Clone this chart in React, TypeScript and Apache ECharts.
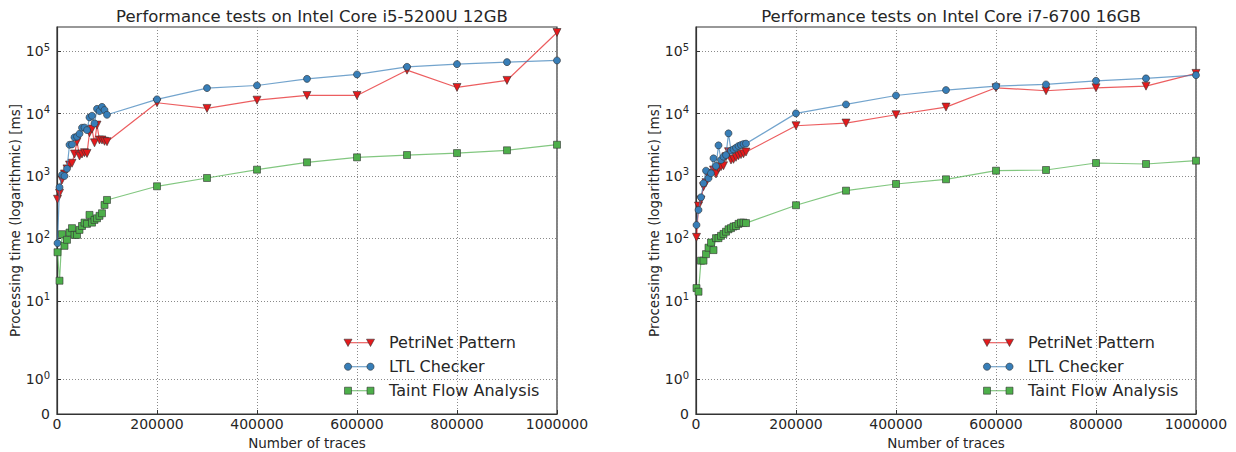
import React, { useEffect, useRef } from "react";
import * as echarts from "echarts";

// ---------------- data ----------------
const TRACES: number[] = [
  1000, 5000, 10000, 15000, 20000, 25000, 30000, 35000, 40000, 45000, 50000,
  55000, 60000, 65000, 70000, 75000, 80000, 85000, 90000, 95000, 100000,
  200000, 300000, 400000, 500000, 600000, 700000, 800000, 900000, 1000000,
];

// Intel Core i5-5200U 12GB (ms)
const I5_PETRINET: number[] = [
  424, 528, 863, 1077, 1300, 1500, 1600, 2250, 3540, 2090, 2250,
  2360, 2300, 4930, 5650, 3400, 6540, 3770, 3770, 3600, 3540,
  14900, 12100, 16400, 19500, 19500, 49600, 26200, 34000, 199000,
];
const I5_LTL: number[] = [
  84, 660, 1040, 1000, 1310, 3160, 3200, 4160, 4260, 4750, 5930,
  5980, 5440, 8690, 9220, 6970, 11900, 10960, 12800, 11400, 9570,
  16900, 25600, 28200, 36000, 42400, 56100, 61900, 66700, 71000,
];
const I5_TAINT: number[] = [
  60, 21, 117, 76, 95, 124, 146, 114, 114, 137, 158,
  179, 171, 238, 179, 198, 210, 230, 253, 344, 413,
  684, 929, 1262, 1656, 1990, 2167, 2330, 2580, 3170,
];

// Intel Core i7-6700 16GB (ms)
const I7_PETRINET: number[] = [
  104, 330, 413, 675, 782, 972, 1104, 1247, 1076, 1327, 1409,
  1460, 2037, 2449, 1803, 1850, 1990, 2113, 2200, 2270, 2420,
  6380, 7050, 9570, 12700, 25900, 23200, 25900, 27500, 44000,
];
const I7_LTL: number[] = [
  164, 286, 456, 764, 1216, 918, 1104, 1919, 1445, 3097, 1803,
  2037, 2168, 4820, 2541, 2673, 2838, 3020, 3140, 3250, 3300,
  10070, 14000, 19500, 23800, 27500, 29300, 33500, 36600, 41300,
];
const I7_TAINT: number[] = [
  16, 14, 44, 44, 56, 71, 86, 65, 101, 101, 110,
  118, 128, 140, 146, 155, 158, 171, 179, 179, 176,
  340, 582, 745, 885, 1216, 1247, 1614, 1556, 1758,
];

const TITLES: string[] = [
  "Performance tests on Intel Core i5-5200U 12GB",
  "Performance tests on Intel Core i7-6700 16GB",
];
const SERIES_NAMES: string[] = ["PetriNet Pattern", "LTL Checker", "Taint Flow Analysis"];
const Y_TICK_VALUES: number[] = [0, 1, 10, 100, 1000, 10000, 100000];
const Y_TICK_LABELS: string[] = ["0", "10{s|0}", "10{s|1}", "10{s|2}", "10{s|3}", "10{s|4}", "10{s|5}"];
const X_TICK_INTERVAL = 200000;
const X_MAX = 1000000;

// ---------------- styles ----------------
const FONT = "DejaVu Sans";
const TEXT = "#262626";
const COLORS = ["#e41a1c", "#377eb8", "#4daf4a"];
const SYMBOLS = ["triangle", "circle", "rect"];

// symlog-like y scale of the reference (0 and 10^0 in a compressed linear part)
const Y_ONE = 0.56;
const Y_OFF = 0.813;
const Y_MAX = 6.2;
function scaleY(v: number): number {
  if (v <= 0) return 0;
  if (v <= 1) return v * Y_ONE;
  if (v < 10) return Y_ONE + Math.log10(v) * (1 + Y_OFF - Y_ONE);
  return Math.log10(v) + Y_OFF;
}

const GRIDS = [
  { left: 57, top: 27, width: 500, height: 387 },
  { left: 696, top: 27, width: 500, height: 387 },
];

export default function App() {
  const ref = useRef<HTMLDivElement>(null);

  useEffect(() => {
    document.body.style.margin = "0";
    if (!ref.current) return;
    const chart = echarts.init(ref.current, undefined, { renderer: "svg" });

    const data = [
      [I5_PETRINET, I5_LTL, I5_TAINT],
      [I7_PETRINET, I7_LTL, I7_TAINT],
    ];
    const yTickPos = Y_TICK_VALUES.map(scaleY);

    const series: any[] = [];
    data.forEach((group, gi) => {
      group.forEach((vals, si) => {
        series.push({
          name: SERIES_NAMES[si],
          type: "line",
          xAxisIndex: gi,
          yAxisIndex: gi,
          data: TRACES.map((x, i) => [x, scaleY(vals[i])]),
          symbol: SYMBOLS[si],
          symbolSize: si === 0 ? 8 : 7,
          symbolRotate: si === 0 ? 180 : 0,
          showAllSymbol: true,
          itemStyle: { color: COLORS[si], borderColor: "#333", borderWidth: 0.6 },
          lineStyle: { color: COLORS[si], width: 1.2, opacity: 0.7 },
          z: 2 + si,
        });
      });
    });

    const xAxis = GRIDS.map((_, gi) => ({
      type: "value",
      gridIndex: gi,
      min: 0,
      max: X_MAX,
      interval: X_TICK_INTERVAL,
      name: "Number of traces",
      nameLocation: "middle",
      nameGap: 20,
      nameTextStyle: { fontFamily: FONT, fontSize: 13.5, color: TEXT },
      axisLine: { show: true, onZero: false, lineStyle: { color: "#333", width: 1.2 } },
      axisTick: { show: true, inside: true, length: 4, lineStyle: { color: "#333" } },
      axisLabel: {
        fontFamily: FONT,
        fontSize: 14,
        color: TEXT,
        margin: 3,
        formatter: (v: number) => String(v),
      },
      splitLine: { show: true, lineStyle: { color: "#8a8a8a", width: 1, type: [1, 2] } },
    }));

    const yAxis = GRIDS.map((_, gi) => ({
      type: "value",
      gridIndex: gi,
      min: 0,
      max: Y_MAX,
      name: "Processing time (logarithmic) [ms]",
      nameLocation: "middle",
      nameGap: 32,
      nameTextStyle: { fontFamily: FONT, fontSize: 13.5, color: TEXT },
      axisLine: { show: true, onZero: false, lineStyle: { color: "#333", width: 1.2 } },
      axisTick: { show: true, inside: true, length: 4, customValues: yTickPos, lineStyle: { color: "#333" } },
      axisLabel: {
        customValues: yTickPos,
        fontFamily: FONT,
        fontSize: 14,
        color: TEXT,
        margin: 7,
        formatter: (v: number) => {
          let best = 0;
          yTickPos.forEach((p, i) => {
            if (Math.abs(p - v) < Math.abs(yTickPos[best] - v)) best = i;
          });
          return Y_TICK_LABELS[best];
        },
        rich: {
          s: { fontFamily: FONT, fontSize: 10, color: TEXT, padding: [0, 0, 8, 0] },
        },
      },
      splitLine: { show: true, lineStyle: { color: "#8a8a8a", width: 1, type: [1, 2] } },
    }));

    // legend drawn like matplotlib (two markers joined by a line)
    const graphic: any[] = [];
    GRIDS.forEach((g) => {
      const x1 = g.left + 291;
      const x2 = g.left + 313.5;
      const tx = g.left + 332;
      const ys = [342.7, 366.7, 390.7];
      SERIES_NAMES.forEach((name, si) => {
        const y = ys[si];
        graphic.push({
          type: "line",
          shape: { x1, y1: y, x2, y2: y },
          style: { stroke: COLORS[si], lineWidth: 1.2, opacity: 0.7 },
          silent: true,
        });
        [x1, x2].forEach((cx) => {
          const st = { fill: COLORS[si], stroke: "#333", lineWidth: 0.6 };
          if (si === 0) {
            graphic.push({
              type: "polygon",
              shape: { points: [[cx - 4, y - 3.5], [cx + 4, y - 3.5], [cx, y + 3.8]] },
              style: st,
              silent: true,
            });
          } else if (si === 1) {
            graphic.push({ type: "circle", shape: { cx, cy: y, r: 3.6 }, style: st, silent: true });
          } else {
            graphic.push({
              type: "rect",
              shape: { x: cx - 3.5, y: y - 3.5, width: 7, height: 7 },
              style: st,
              silent: true,
            });
          }
        });
        graphic.push({
          type: "text",
          x: tx,
          y,
          style: {
            text: name,
            fontFamily: FONT,
            fontSize: 16,
            fill: TEXT,
            verticalAlign: "middle",
          },
          silent: true,
        });
      });
    });

    chart.setOption({
      animation: false,
      backgroundColor: "#ffffff",
      title: GRIDS.map((g, gi) => ({
        text: TITLES[gi],
        left: g.left + g.width / 2,
        top: 3,
        textAlign: "center",
        textStyle: { fontFamily: FONT, fontSize: 16.5, fontWeight: "normal", color: TEXT },
      })),
      grid: GRIDS.map((g) => ({
        ...g,
        show: true,
        borderColor: "#333",
        borderWidth: 1.2,
        backgroundColor: "transparent",
        containLabel: false,
        outerBoundsMode: "none",
      })),
      xAxis,
      yAxis,
      series,
      graphic,
    });

    return () => chart.dispose();
  }, []);

  return <div ref={ref} style={{ width: 1236, height: 452 }} />;
}
